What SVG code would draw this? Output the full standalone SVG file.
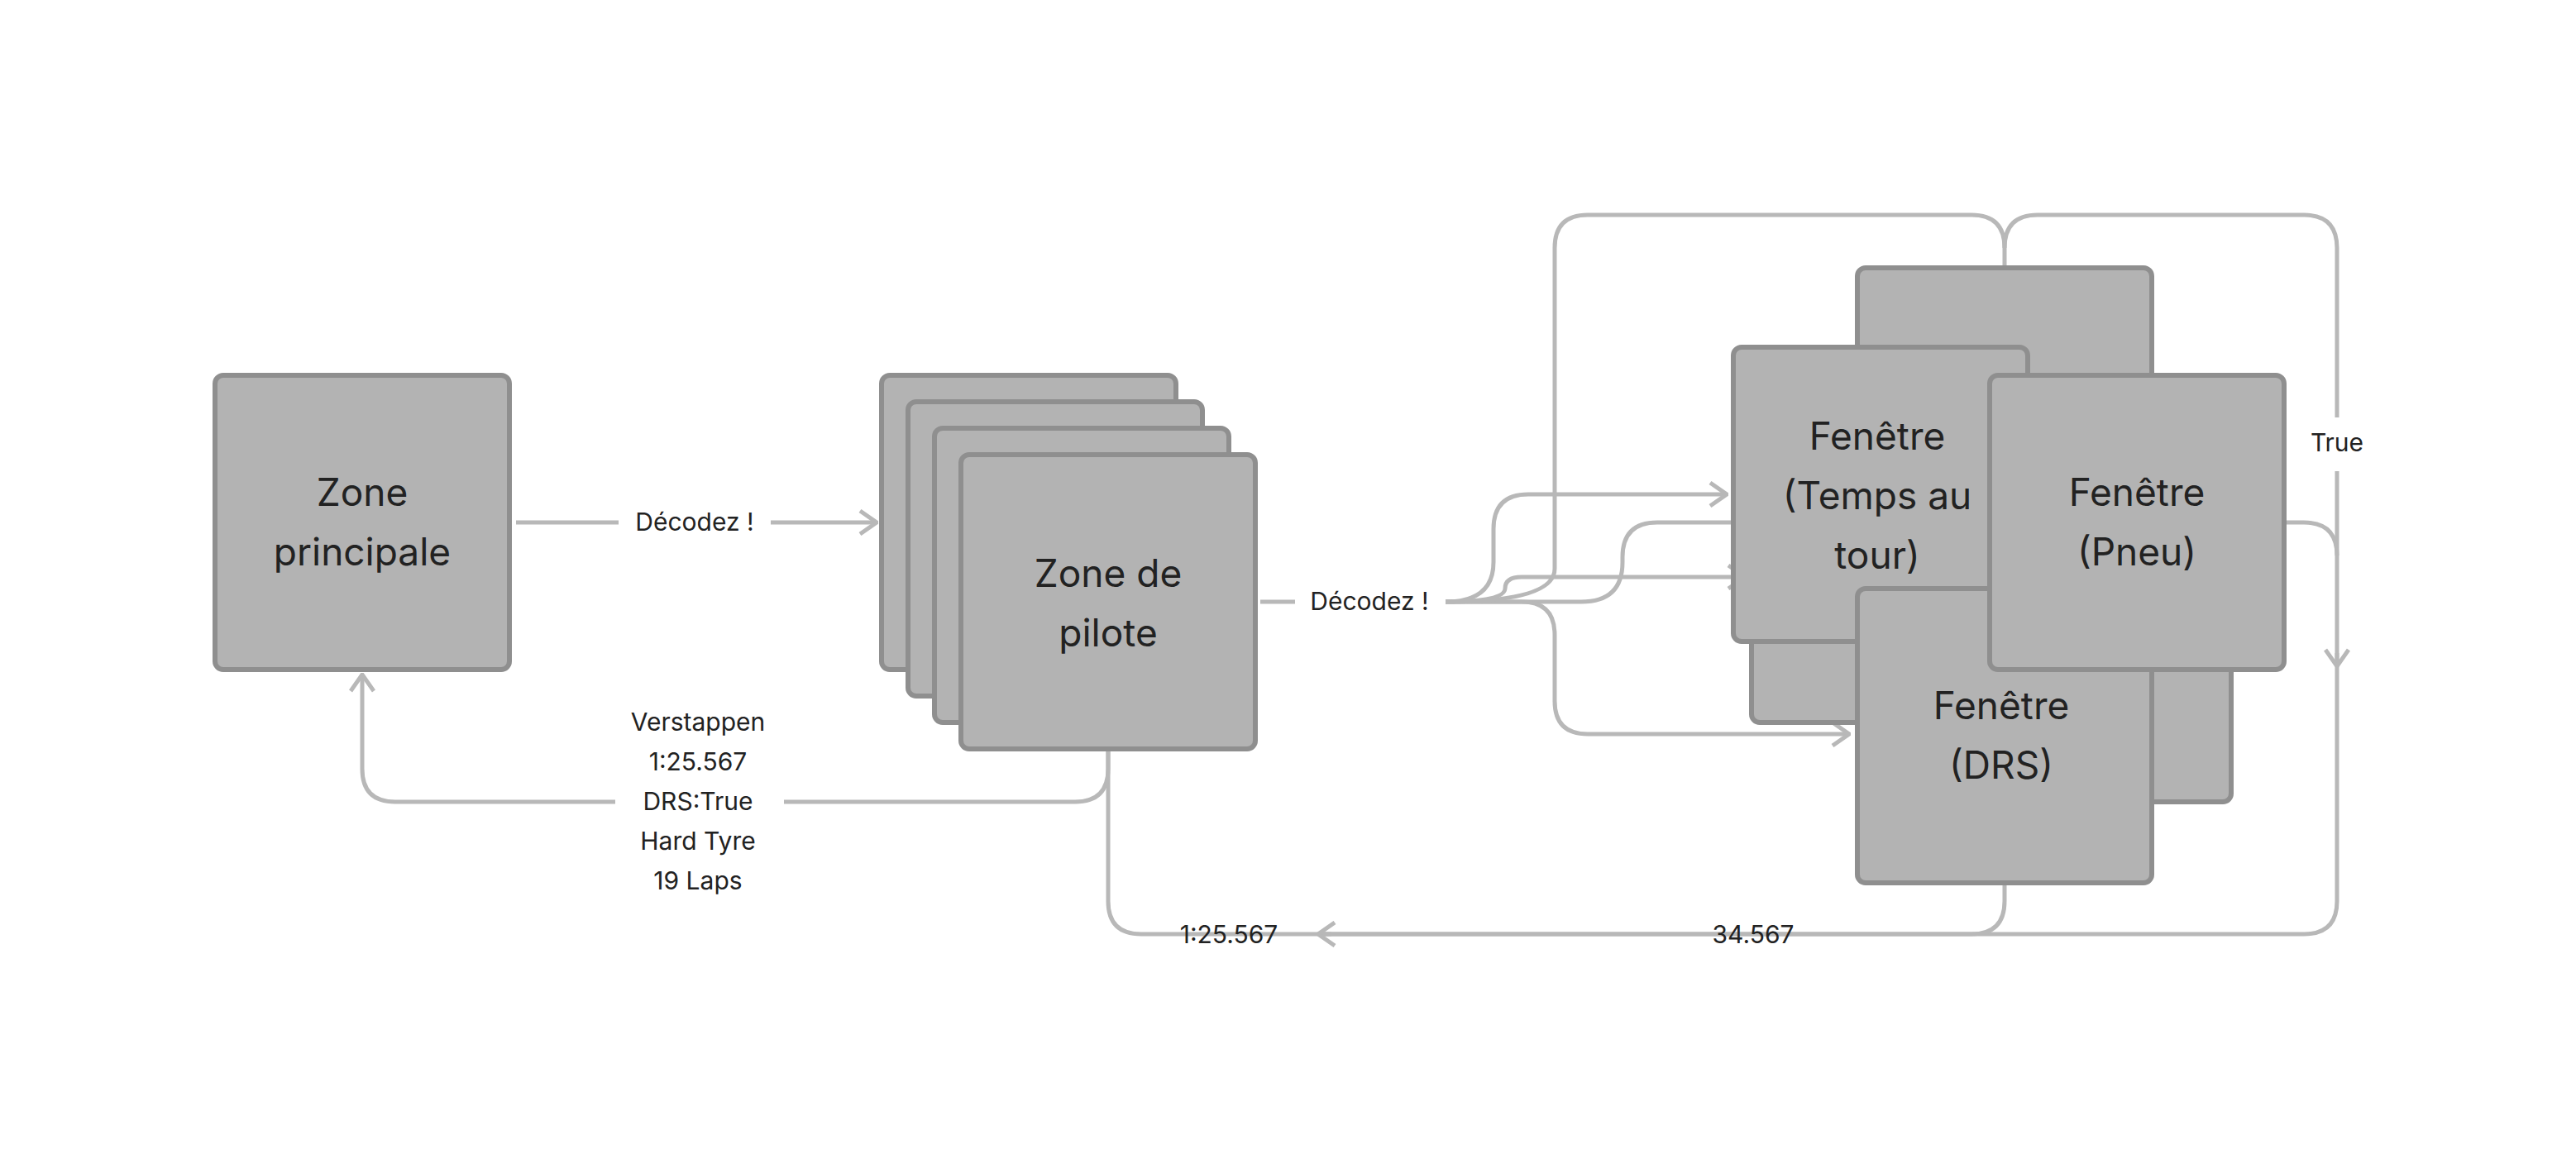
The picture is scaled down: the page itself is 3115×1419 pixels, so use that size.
<svg xmlns="http://www.w3.org/2000/svg" width="3115" height="1419" viewBox="0 0 3115 1419">
<style>
.n{fill:#b3b3b3;stroke:#8f8f8f;stroke-width:6}
.c{fill:none;stroke:#b8b8b8;stroke-width:5}
.t{font-family:Inter,"Liberation Sans",sans-serif;font-size:46px;fill:#222;text-anchor:middle}
.l{font-family:Inter,"Liberation Sans",sans-serif;font-size:30px;fill:#222;text-anchor:middle}
</style>
<defs>
<marker id="a" viewBox="0 0 24 32" refX="22" refY="16" markerWidth="24" markerHeight="32" markerUnits="userSpaceOnUse" orient="auto">
<path d="M2 2 L22 16 L2 30" fill="none" stroke="#b8b8b8" stroke-width="5"/>
</marker>
</defs>
<rect width="3115" height="1419" fill="#fff"/>
<g id="connectors">
<path class="c" d="M624 632 L748 632 M932 632 L1060 632" marker-end="url(#a)"/>
<path class="c" d="M1524 728 L1566 728"/>
<path class="c" d="M1748 728 Q1806 728 1806 680 L1806 640 Q1806 598 1848 598 L2088 598" marker-end="url(#a)"/>
<path class="c" d="M1748 728 L1912 728 Q1962 728 1962 680 L1962 674 Q1962 632 2004 632 L2096 632"/>
<path class="c" d="M1748 728 Q1820 728 1820 712 Q1820 698 1840 698 L2110 698" marker-end="url(#a)"/>
<path class="c" d="M1748 728 L1840 728 Q1880 728 1880 768 L1880 848 Q1880 888 1920 888 L2236 888" marker-end="url(#a)"/>
<path class="c" d="M1748 728 Q1880 728 1880 688 L1880 300 Q1880 260 1920 260 L2384 260 Q2424 260 2424 300 L2424 324"/>
<path class="c" d="M2424 300 Q2424 260 2464 260 L2786 260 Q2826 260 2826 300 L2826 505"/>
<path class="c" d="M2826 570 L2826 1090 Q2826 1130 2786 1130 L1380 1130 Q1340 1130 1340 1090 L1340 906"/>
<path class="c" d="M2826 790 L2826 806" marker-end="url(#a)"/>
<path class="c" d="M2424 1068 L2424 1090 Q2424 1130 2384 1130 L1594 1130"/>
<path class="c" d="M1610 1130 L1594 1130" marker-end="url(#a)"/>
<path class="c" d="M2762 632 L2786 632 Q2826 632 2826 672"/>
<path class="c" d="M1340 906 L1340 930 Q1340 970 1300 970 L948 970 M744 970 L478 970 Q438 970 438 930 L438 816" marker-end="url(#a)"/>
</g>
<g id="zone-principale"><rect class="n" x="260" y="454" width="356" height="356" rx="10"/><text class="t" x="438" y="612">Zone</text><text class="t" x="438" y="684">principale</text></g>
<g id="zone-pilote">
<rect class="n" x="1066" y="454" width="356" height="356" rx="10"/>
<rect class="n" x="1098" y="486" width="356" height="356" rx="10"/>
<rect class="n" x="1130" y="518" width="356" height="356" rx="10"/>
<rect class="n" x="1162" y="550" width="356" height="356" rx="10"/>
<text class="t" x="1340" y="710">Zone de</text><text class="t" x="1340" y="782">pilote</text></g>
<g id="fenetre-back"><rect class="n" x="2246" y="324" width="356" height="356" rx="10"/>
<rect class="n" x="2118" y="518" width="356" height="356" rx="10"/>
<rect class="n" x="2342" y="614" width="356" height="356" rx="10"/></g>
<g id="fenetre-temps"><rect class="n" x="2096" y="420" width="356" height="356" rx="10"/><text class="t" x="2270" y="544">Fenêtre</text><text class="t" x="2270" y="616">(Temps au</text><text class="t" x="2270" y="688">tour)</text></g>
<g id="fenetre-drs"><rect class="n" x="2246" y="712" width="356" height="356" rx="10"/><text class="t" x="2420" y="870">Fenêtre</text><text class="t" x="2420" y="942">(DRS)</text></g>
<g id="fenetre-pneu"><rect class="n" x="2406" y="454" width="356" height="356" rx="10"/><text class="t" x="2584" y="612">Fenêtre</text><text class="t" x="2584" y="684">(Pneu)</text></g>
<g id="labels">
<text class="l" x="840" y="642">Décodez !</text>
<text class="l" x="1656" y="738">Décodez !</text>
<text class="l" x="2826" y="546">True</text>
<text class="l" x="1486" y="1141">1:25.567</text>
<text class="l" x="2120" y="1141">34.567</text>
<text class="l" x="844" y="884">Verstappen</text>
<text class="l" x="844" y="932">1:25.567</text>
<text class="l" x="844" y="980">DRS:True</text>
<text class="l" x="844" y="1028">Hard Tyre</text>
<text class="l" x="844" y="1076">19 Laps</text>
</g>
</svg>
